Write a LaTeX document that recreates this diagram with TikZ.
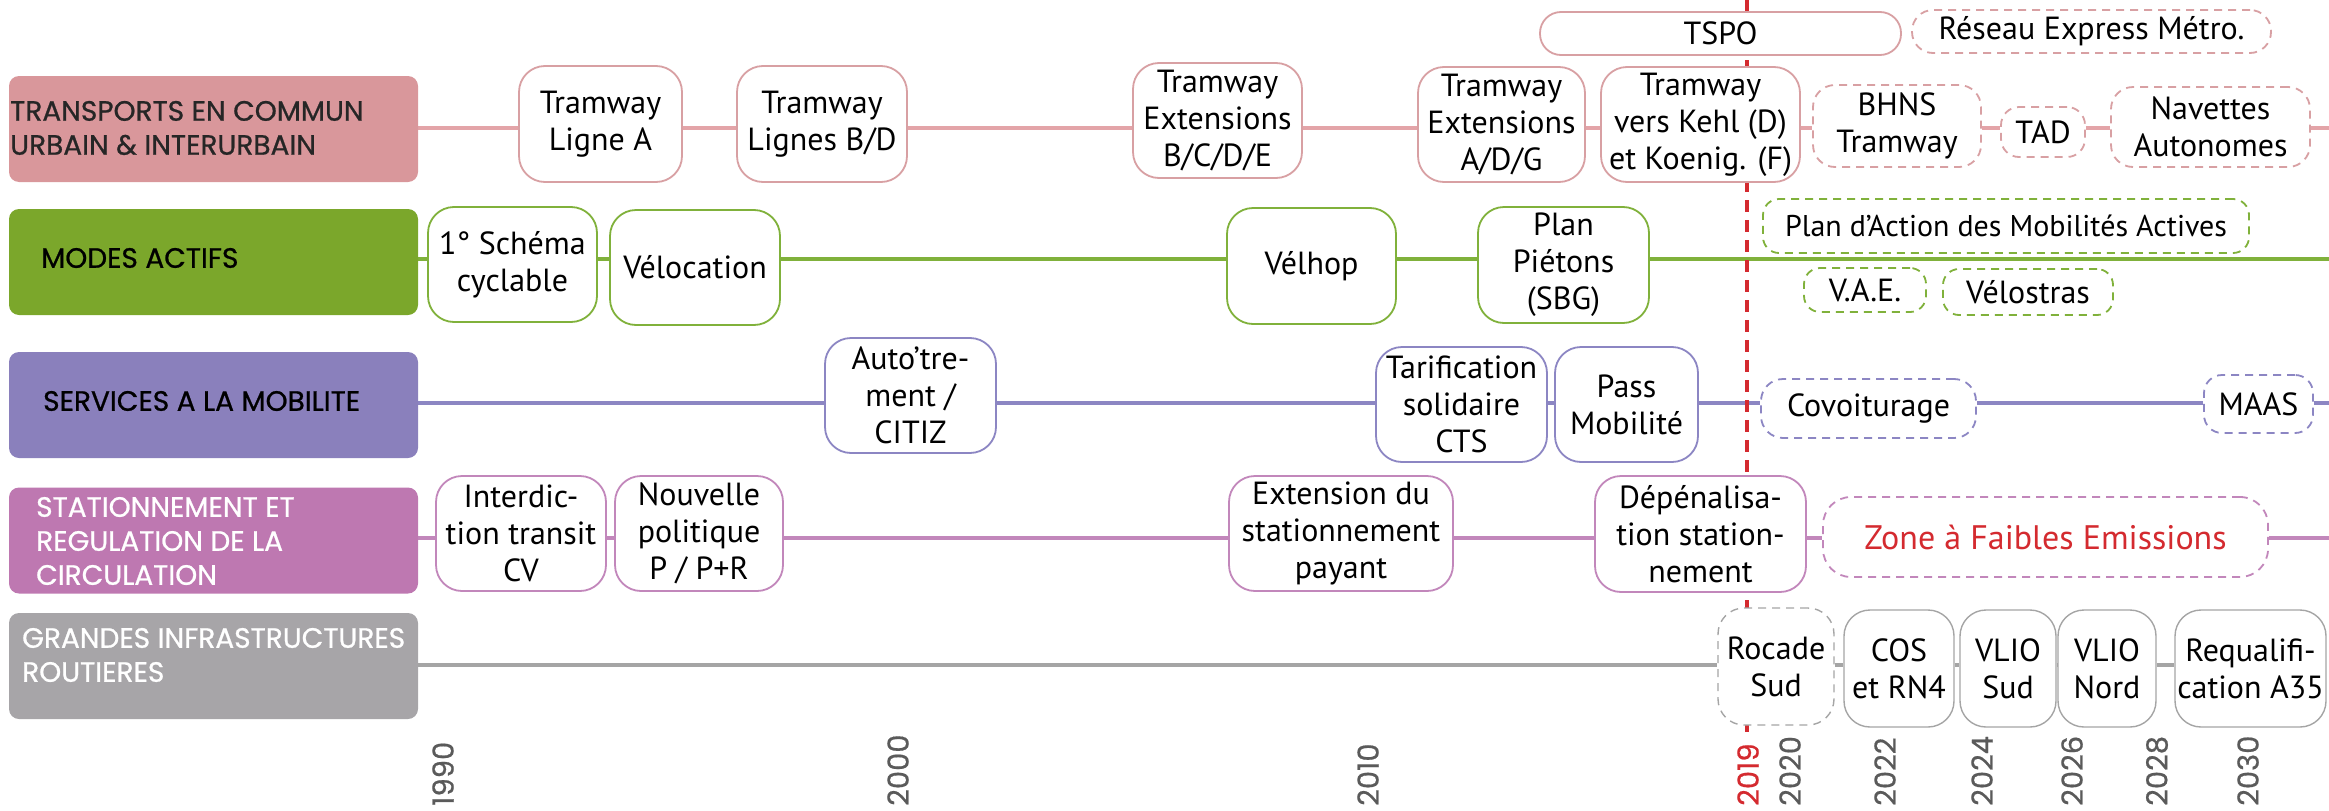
\documentclass[tikz,border=0pt]{standalone}
\usepackage{fontspec}
\setmainfont{PT Sans}
\newfontfamily\catfont{Poppins}[FakeBold=0.8]
\newfontfamily\yearfont{Poppins}[FakeBold=0.6]
\usetikzlibrary{backgrounds}
\definecolor{cTf}{HTML}{D9979B}
\definecolor{cTl}{HTML}{E3A4A8}
\definecolor{cTb}{HTML}{D8A0A3}
\definecolor{cMf}{HTML}{7BA72B}
\definecolor{cMl}{HTML}{80B13B}
\definecolor{cSf}{HTML}{8A80BC}
\definecolor{cSl}{HTML}{8C86C3}
\definecolor{cRf}{HTML}{BE78B1}
\definecolor{cRl}{HTML}{C287BB}
\definecolor{cGf}{HTML}{A7A5A8}
\definecolor{cGl}{HTML}{A5A5A5}
\definecolor{cRed}{HTML}{D42A2F}
\definecolor{cYear}{HTML}{5A5A5A}
\begin{document}
\begin{tikzpicture}[x=1pt,y=-1pt,
  catbox/.style={fill=#1, rounded corners=10pt, minimum width=409pt, minimum height=106pt, inner sep=0pt},
  cattxt/.style={anchor=west, align=left, inner sep=0pt, font=\catfont\fontsize{28}{34}\selectfont},
  box/.style={draw, fill=white, line width=1.8pt, rounded corners=26pt, inner sep=0pt, align=center,
    font=\fontsize{32}{37}\selectfont, text=black},
  dbox/.style={box, dash pattern=on 8pt off 6pt},
  rowline/.style={line width=4.5pt},
  year/.style={rotate=90, anchor=west, inner sep=0pt, text=cYear, font=\yearfont\fontsize{29}{30}\selectfont},
]
\useasboundingbox (0,0) rectangle (2329,811);

% category boxes
\node[catbox=cTf] (catT) at (213.5,129) {};
\node[catbox=cMf] (catM) at (213.5,262) {};
\node[catbox=cSf] (catS) at (213.5,405) {};
\node[catbox=cRf] (catR) at (213.5,540.5) {};
\node[catbox=cGf] (catG) at (213.5,666) {};
\node[cattxt, text=black!85] (catTt) at (10,128) {TRANSPORTS EN COMMUN\\URBAIN \& INTERURBAIN};
\node[cattxt, text=black] (catMt) at (41,258) {MODES ACTIFS};
\node[cattxt, text=black] (catSt) at (43,401) {SERVICES A LA MOBILITE};
\node[cattxt, text=white] (catRt) at (36,541) {STATIONNEMENT ET\\REGULATION DE LA\\CIRCULATION};
\node[cattxt, text=white] (catGt) at (22,655) {GRANDES INFRASTRUCTURES\\ROUTIERES};

% row 1 : transports
\node[box, draw=cTb, minimum width=163pt, minimum height=116pt] (tA) at (600.5,124) {Tramway\\Ligne A};
\node[box, draw=cTb, minimum width=170pt, minimum height=116pt] (tBD) at (822,124) {Tramway\\Lignes B/D};
\node[box, draw=cTb, minimum width=169pt, minimum height=115pt] (tBCDE) at (1217.5,120.5) {Tramway\\Extensions\\B/C/D/E};
\node[box, draw=cTb, minimum width=167pt, minimum height=115pt] (tADG) at (1501.5,124.5) {Tramway\\Extensions\\A/D/G};
\node[box, draw=cTb, minimum width=199pt, minimum height=115pt] (tKehl) at (1700.5,124.5) {Tramway\\vers Kehl (D)\\et Koenig. (F)};
\node[dbox, draw=cTb, minimum width=168pt, minimum height=82pt, rounded corners=22pt] (tBHNS) at (1897,126) {BHNS\\Tramway};
\node[dbox, draw=cTb, minimum width=84pt, minimum height=50pt, rounded corners=18pt] (tTAD) at (2043,132) {TAD};
\node[dbox, draw=cTb, minimum width=199pt, minimum height=80pt, rounded corners=22pt] (tNav) at (2210.5,127) {Navettes\\Autonomes};
\node[box, draw=cTb, minimum width=361pt, minimum height=43pt, rounded corners=21pt] (tTSPO) at (1720.5,33.5) {TSPO};
\node[dbox, draw=cTb, minimum width=359pt, minimum height=43pt, rounded corners=21pt] (tREM) at (2091.5,31.5) {Réseau Express Métro.};

% row 2 : modes actifs
\node[box, draw=cMl, minimum width=169pt, minimum height=115pt] (m1) at (512.5,264.5) {1° Schéma\\cyclable};
\node[box, draw=cMl, minimum width=170pt, minimum height=115pt] (mVeloc) at (695,267.5) {Vélocation};
\node[box, draw=cMl, minimum width=169pt, minimum height=116pt] (mVelhop) at (1311.5,266) {Vélhop};
\node[box, draw=cMl, minimum width=171pt, minimum height=116pt] (mPlan) at (1563.5,265) {Plan\\Piétons\\(SBG)};
\node[dbox, draw=cMl, minimum width=486pt, minimum height=54pt, rounded corners=16pt,
  font=\fontsize{30}{36}\selectfont] (mPAMA) at (2006,226) {Plan d’Action des Mobilités Actives};
\node[dbox, draw=cMl, minimum width=122pt, minimum height=44pt, rounded corners=16pt] (mVAE) at (1865,290) {V.A.E.};
\node[dbox, draw=cMl, minimum width=170pt, minimum height=46pt, rounded corners=16pt] (mVelostras) at (2028,292) {Vélostras};

% row 3 : services
\node[box, draw=cSl, minimum width=171pt, minimum height=115pt] (sAuto) at (910.5,395.5) {Auto’tre-\\ment /\\CITIZ};
\node[box, draw=cSl, minimum width=171pt, minimum height=115pt] (sTarif) at (1461.5,404.5) {Tarification\\solidaire\\CTS};
\node[box, draw=cSl, minimum width=143pt, minimum height=115pt] (sPass) at (1626.5,404.5) {Pass\\Mobilité};
\node[dbox, draw=cSl, minimum width=215pt, minimum height=59pt, rounded corners=22pt] (sCovoit) at (1868.5,408.5) {Covoiturage};
\node[dbox, draw=cSl, minimum width=109pt, minimum height=58pt, rounded corners=18pt] (sMAAS) at (2258.5,404) {MAAS};

% row 4 : stationnement
\node[box, draw=cRl, minimum width=170pt, minimum height=115pt] (rInter) at (521,533.5) {Interdic-\\tion transit\\CV};
\node[box, draw=cRl, minimum width=168pt, minimum height=115pt] (rNouv) at (699,533.5) {Nouvelle\\politique\\P / P+R};
\node[box, draw=cRl, minimum width=224pt, minimum height=115pt] (rExt) at (1341,533.5) {Extension du\\stationnement\\payant};
\node[box, draw=cRl, minimum width=211pt, minimum height=116pt] (rDep) at (1700.5,534) {Dépénalisa-\\tion station-\\nement};
\node[dbox, draw=cRl, minimum width=445pt, minimum height=80pt, rounded corners=28pt, text=cRed,
  font=\fontsize{34}{38}\selectfont] (rZFE) at (2045.5,537) {Zone à Faibles Emissions};

% row 5 : grandes infrastructures
\node[dbox, draw=cGl, line width=1.4pt, minimum width=116pt, minimum height=117pt] (gRoc) at (1776,666.5) {Rocade\\Sud};
\node[box, draw=cGl, line width=1.4pt, minimum width=110pt, minimum height=117pt] (gCOS) at (1899,668.5) {COS\\et RN4};
\node[box, draw=cGl, line width=1.4pt, minimum width=96pt, minimum height=117pt] (gVS) at (2008,668.5) {VLIO\\Sud};
\node[box, draw=cGl, line width=1.4pt, minimum width=98pt, minimum height=117pt] (gVN) at (2107,668.5) {VLIO\\Nord};
\node[box, draw=cGl, line width=1.4pt, minimum width=151pt, minimum height=117pt] (gA35) at (2250.5,668.5) {Requalifi-\\cation A35};

% years
\node[year] (y1990) at (443,806) {1990};
\node[year] (y2000) at (898,806) {2000};
\node[year] (y2010) at (1368,806) {2010};
\node[year, text=cRed] (y2019) at (1748,806) {2019};
\node[year] (y2020) at (1790,806) {2020};
\node[year] (y2022) at (1885,806) {2022};
\node[year] (y2024) at (1982,806) {2024};
\node[year] (y2026) at (2072,806) {2026};
\node[year] (y2028) at (2157,806) {2028};
\node[year] (y2030) at (2248,806) {2030};

% end coordinates
\coordinate (eT) at (2329,128);
\coordinate (eM) at (2329,259);
\coordinate (eS) at (2329,403);
\coordinate (eR) at (2329,538);
\coordinate (eG) at (2175,665);
\coordinate (redTop) at (1747,0);
\coordinate (redBot) at (1747,732);

\begin{pgfonlayer}{background}
\draw[rowline, cTl] (catT.east |- eT) -- (tA.west |- eT) (tA.east |- eT) -- (tBD.west |- eT)
  (tBD.east |- eT) -- (tBCDE.west |- eT) (tBCDE.east |- eT) -- (tADG.west |- eT)
  (tADG.east |- eT) -- (tKehl.west |- eT) (tKehl.east |- eT) -- (tBHNS.west |- eT)
  (tBHNS.east |- eT) -- (tTAD.west |- eT) (tTAD.east |- eT) -- (tNav.west |- eT)
  (tNav.east |- eT) -- (eT);
\draw[rowline, cMl] (catM.east |- eM) -- (m1.west |- eM) (m1.east |- eM) -- (mVeloc.west |- eM)
  (mVeloc.east |- eM) -- (mVelhop.west |- eM) (mVelhop.east |- eM) -- (mPlan.west |- eM)
  (mPlan.east |- eM) -- (eM);
\draw[rowline, cSl] (catS.east |- eS) -- (sAuto.west |- eS) (sAuto.east |- eS) -- (sTarif.west |- eS)
  (sTarif.east |- eS) -- (sPass.west |- eS) (sPass.east |- eS) -- (sCovoit.west |- eS)
  (sCovoit.east |- eS) -- (sMAAS.west |- eS) (sMAAS.east |- eS) -- (eS);
\draw[rowline, cRl] (catR.east |- eR) -- (rInter.west |- eR) (rInter.east |- eR) -- (rNouv.west |- eR)
  (rNouv.east |- eR) -- (rExt.west |- eR) (rExt.east |- eR) -- (rDep.west |- eR)
  (rDep.east |- eR) -- (rZFE.west |- eR) (rZFE.east |- eR) -- (eR);
\draw[rowline, cGl] (catG.east |- eG) -- (gRoc.west |- eG) (gRoc.east |- eG) -- (gCOS.west |- eG)
  (gCOS.east |- eG) -- (gVS.west |- eG) (gVS.east |- eG) -- (gVN.west |- eG)
  (gVN.east |- eG) -- (gA35.west |- eG);
\draw[cRed, line width=4pt, dash pattern=on 12pt off 8pt] (redTop) -- (redBot);
\end{pgfonlayer}
\end{tikzpicture}
\end{document}
